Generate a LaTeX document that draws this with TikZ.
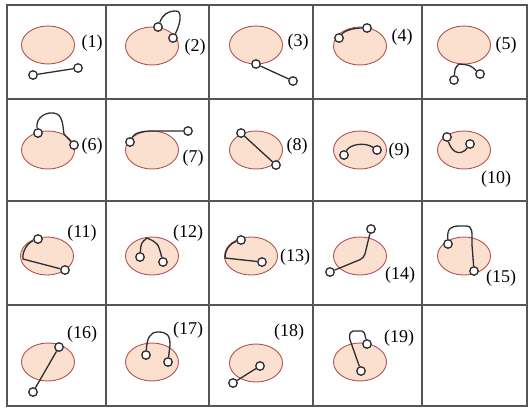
\documentclass[tikz,border=0pt]{standalone}
\usepackage{fontspec}
\setmainfont{Liberation Serif}
\usetikzlibrary{shapes.geometric,calc}
\definecolor{blobfill}{RGB}{251,224,208}
\definecolor{blobedge}{RGB}{176,82,82}
\definecolor{gridcol}{RGB}{85,85,85}
\definecolor{wirecol}{RGB}{45,45,45}

\begin{document}
\begin{tikzpicture}[x=1pt,y=-1pt,
  blob/.style={ellipse,draw=blobedge,fill=blobfill,line width=0.9pt,
               minimum width=53pt,minimum height=38pt,inner sep=0pt},
  term/.style={circle,draw=wirecol,fill=white,line width=1.3pt,
               minimum size=8.5pt,inner sep=0pt},
  wire/.style={draw=wirecol,line width=1.3pt},
  num/.style={font=\fontsize{18}{20}\selectfont,inner sep=0pt}]
\useasboundingbox (0,0) rectangle (529,408);
% grid
\draw[gridcol,line width=1.4pt] (7,5) rectangle (527,406);
\foreach \x in {106,209,313,422}
  \draw[gridcol,line width=1.4pt] (\x,5)--(\x,406);
\foreach \y in {99,201,305}
  \draw[gridcol,line width=1.4pt] (7,\y)--(527,\y);
% row 1
\node[blob] (e1) at (48,45) {};
\node[num] (n1) at (92,43) {(1)};
\node[term] (a1) at (33,75) {};
\node[term] (b1) at (78,68) {};
\draw[wire] (a1) -- (b1);
\node[blob] (e2) at (152,46) {};
\node[num] (n2) at (195,47) {(2)};
\node[term] (a2) at (158,27) {};
\node[term] (b2) at (173,38) {};
\draw[wire] (a2) .. controls (163,14) and (168,11) .. (176,11)
            .. controls (183,11) and (180,25) .. (b2);
\node[blob] (e3) at (256,45) {};
\node[num] (n3) at (298,42) {(3)};
\node[term] (a3) at (256,64) {};
\node[term] (b3) at (293,81) {};
\draw[wire] (a3) -- (b3);
\node[blob] (e4) at (360,46) {};
\node[num] (n4) at (402,37) {(4)};
\node[term] (a4) at (339,38) {};
\node[term] (b4) at (367,28) {};
\draw[wire] (a4) .. controls (345,30) and (355,28) .. (b4);
\node[blob] (e5) at (464,45) {};
\node[num] (n5) at (506,45) {(5)};
\node[term] (a5) at (454,80) {};
\node[term] (b5) at (480,74) {};
\coordinate (j5) at (459,64);
\draw[wire] (j5) .. controls (455,68) .. (a5);
\draw[wire] (j5) .. controls (470,65) .. (b5);
% row 2
\node[blob] (e6) at (48,150) {};
\node[num] (n6) at (92,146) {(6)};
\node[term] (a6) at (38,133) {};
\node[term] (b6) at (74,145) {};
\draw[wire] (a6) .. controls (35,117) and (48,110) .. (57,114)
            .. controls (63,117) and (63,128) .. (64,134) -- (b6);
\node[blob] (e7) at (152,150) {};
\node[num] (n7) at (193,158) {(7)};
\node[term] (a7) at (130,142) {};
\node[term] (b7) at (188,131) {};
\draw[wire] (a7) .. controls (134,133) and (142,131) .. (152,131) -- (b7);
\node[blob] (e8) at (256,150) {};
\node[num] (n8) at (297,146) {(8)};
\node[term] (a8) at (241,133) {};
\node[term] (b8) at (276,165) {};
\draw[wire] (a8) -- (b8);
\node[blob] (e9) at (360,150) {};
\node[num] (n9) at (399,151) {(9)};
\node[term] (a9) at (344,155) {};
\node[term] (b9) at (377,150) {};
\draw[wire] (a9) .. controls (350,144) and (365,142) .. (b9);
\node[blob] (e10) at (464,150) {};
\node[num] (n10) at (496,179) {(10)};
\node[term] (a10) at (447,137) {};
\node[term] (b10) at (470,144) {};
\draw[wire] (a10) .. controls (453,156) and (463,154) .. (b10);
% row 3
\node[blob] (e11) at (47,256) {};
\node[num] (n11) at (82,233) {(11)};
\node[term] (a11) at (38,239) {};
\node[term] (b11) at (65,270) {};
\draw[wire] (a11) .. controls (27,243) and (22,252) .. (23,259) -- (b11);
\node[blob] (e12) at (152,256) {};
\node[num] (n12) at (188,233) {(12)};
\node[term] (a12) at (140,257) {};
\node[term] (b12) at (163,262) {};
\coordinate (j12) at (147,238);
\draw[wire] (j12) .. controls (141,243) .. (a12);
\draw[wire] (j12) .. controls (158,243) .. (b12);
\node[blob] (e13) at (251,256) {};
\node[num] (n13) at (295,257) {(13)};
\node[term] (a13) at (241,240) {};
\node[term] (b13) at (262,262) {};
\draw[wire] (a13) .. controls (230,243) and (225,250) .. (225,258) -- (b13);
\node[blob] (e14) at (360,256) {};
\node[num] (n14) at (400,275) {(14)};
\node[term] (a14) at (330,272) {};
\node[term] (b14) at (371,229) {};
\coordinate (k14) at (364,258);
\draw[wire,rounded corners=4pt] (a14) -- (k14) -- (b14);
\node[blob] (e15) at (464,256) {};
\node[num] (n15) at (501,278) {(15)};
\node[term] (a15) at (448,244) {};
\node[term] (b15) at (474,271) {};
\draw[wire] (a15) .. controls (447,228) and (451,226) .. (460,226) -- (466,226)
            .. controls (473,226) and (472,232) .. (472,245) -- (b15);
% row 4
\node[blob] (e16) at (48,362) {};
\node[num] (n16) at (82,334) {(16)};
\node[term] (a16) at (59,347) {};
\node[term] (b16) at (33,392) {};
\draw[wire] (a16) -- (b16);
\node[blob] (e17) at (152,362) {};
\node[num] (n17) at (188,330) {(17)};
\node[term] (a17) at (146,355) {};
\node[term] (b17) at (168,362) {};
\draw[wire] (a17) .. controls (147,338) and (150,332) .. (158,332)
            .. controls (167,332) and (170,335) .. (170,345) -- (b17);
\node[blob] (e18) at (256,363) {};
\node[num] (n18) at (289,332) {(18)};
\node[term] (a18) at (233,383) {};
\node[term] (b18) at (260,366) {};
\draw[wire] (a18) -- (b18);
\node[blob] (e19) at (360,362) {};
\node[num] (n19) at (399,338) {(19)};
\node[term] (a19) at (367,344) {};
\node[term] (b19) at (361,371) {};
\draw[wire,rounded corners=2pt] (a19) -- (364,331) -- (351,331) -- (349,337) -- (b19);
\end{tikzpicture}
\end{document}
